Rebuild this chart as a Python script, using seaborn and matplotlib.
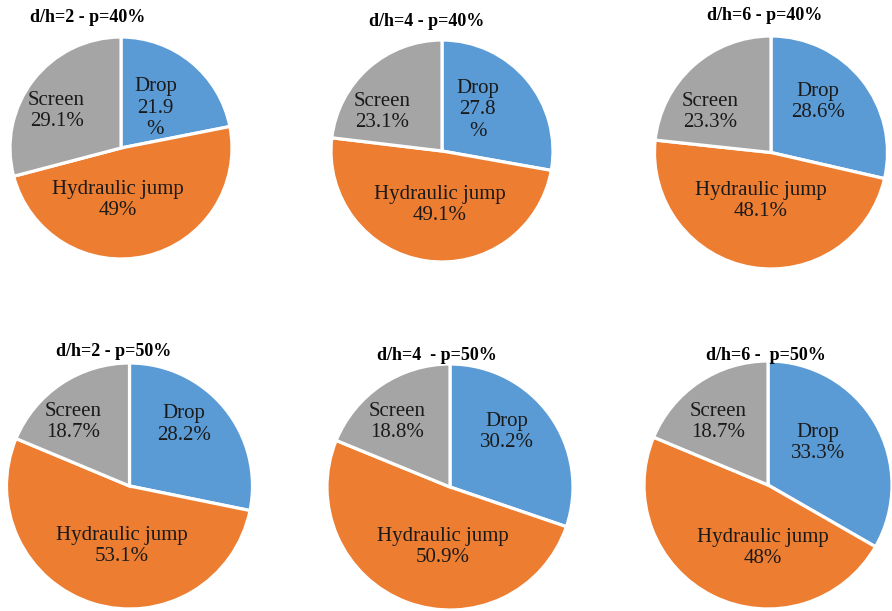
import matplotlib
matplotlib.use("Agg")
import matplotlib.pyplot as plt
import seaborn as sns

# Energy dissipation shares for each configuration
categories = ["Drop", "Hydraulic jump", "Screen"]
titles = [
    "d/h=2 - p=40%", "d/h=4 - p=40%", "d/h=6 - p=40%",
    "d/h=2 - p=50%", "d/h=4  - p=50%", "d/h=6 -  p=50%",
]
drop = [21.9, 27.8, 28.6, 28.2, 30.2, 33.3]
hydraulic_jump = [49.0, 49.1, 48.1, 53.1, 50.9, 48.0]
screen = [29.1, 23.1, 23.3, 18.7, 18.8, 18.7]

# Styling
colors = sns.color_palette(["#5B9BD5", "#ED7D31", "#A5A5A5"])
wrap_drop_value = {0, 1}   # narrow label boxes where the % sign wraps

W, H = 892, 611
# pie centre (px) and radius (px) for each panel
pie_boxes = [
    (121, 148, 111), (442, 151, 111), (771, 152.5, 116.5),
    (129.5, 486, 123), (450, 487, 123), (768, 485, 124),
]
# data-label anchors per panel, in units of the pie radius (Drop, Hydraulic jump, Screen)
label_xy = [
    [(0.31, 0.36), (-0.03, -0.47), (-0.58, 0.33)],
    [(0.32, 0.37), (-0.02, -0.49), (-0.54, 0.35)],
    [(0.40, 0.43), (-0.09, -0.42), (-0.52, 0.35)],
    [(0.44, 0.50), (-0.06, -0.49), (-0.46, 0.52)],
    [(0.46, 0.45), (-0.06, -0.49), (-0.43, 0.53)],
    [(0.40, 0.34), (-0.04, -0.51), (-0.40, 0.51)],
]
title_pos = [(88, 18), (427, 22), (765, 16), (114, 352), (437, 355), (766, 356)]

sns.set_theme(style="white")
plt.rcParams["font.family"] = ["Liberation Serif", "DejaVu Serif"]

fig = plt.figure(figsize=(W / 100, H / 100), dpi=100)
fig.patch.set_facecolor("white")

for i, (cx, cy, r) in enumerate(pie_boxes):
    ax = fig.add_axes([(cx - r) / W, 1 - (cy + r) / H, 2 * r / W, 2 * r / H])
    vals = [drop[i], hydraulic_jump[i], screen[i]]
    wedges, _ = ax.pie(vals, colors=colors, startangle=90, counterclock=False,
                       radius=1, wedgeprops=dict(edgecolor="white", linewidth=2.3))
    for (lx, ly), cat, v in zip(label_xy[i], categories, vals):
        if cat == "Drop" and i in wrap_drop_value:
            txt = f"{cat}\n{v:g}\n%"
        else:
            txt = f"{cat}\n{v:g}%"
        ax.text(lx, ly, txt, ha="center", va="center",
                fontsize=15, color="#1a1a1a", linespacing=1.15)
    ax.set_xlim(-1, 1)
    ax.set_ylim(-1, 1)
    ax.set_aspect("equal")
    ax.axis("off")

for (tx, ty), t in zip(title_pos, titles):
    fig.text(tx / W, 1 - ty / H, t, ha="center", va="center", fontsize=13,
             fontweight="bold", color="black", zorder=10)

fig.savefig("out.png", dpi=100, facecolor="white")
